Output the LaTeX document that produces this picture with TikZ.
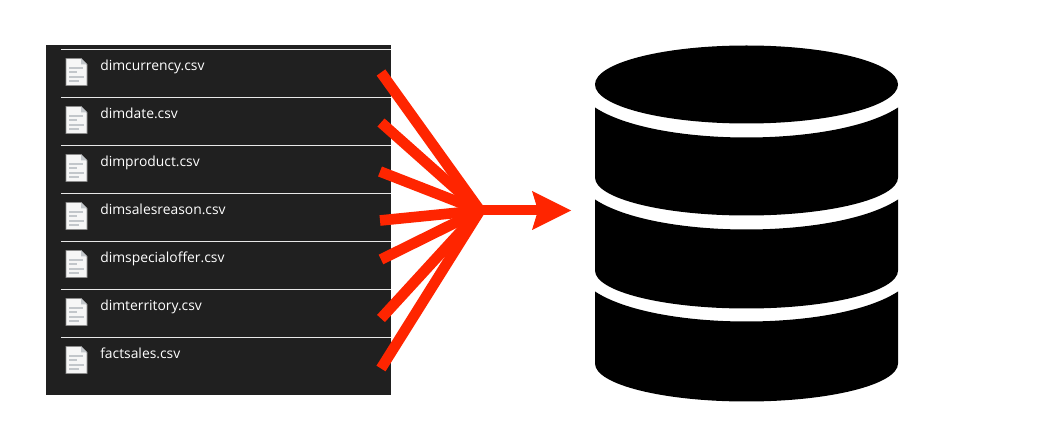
\documentclass[tikz,border=0pt]{standalone}
\usepackage{fontspec}
\setmainfont{Open Sans}
\usetikzlibrary{arrows.meta}
\definecolor{panel}{HTML}{202020}
\definecolor{fan}{HTML}{FF2500}
\definecolor{rule}{HTML}{E8E8E8}
\definecolor{page}{HTML}{F6F6F6}
\definecolor{edge}{HTML}{8C8C8C}
\definecolor{bar}{HTML}{C2C6CA}
\tikzset{
  x=0.75pt,y=-0.75pt,
  filelabel/.style={anchor=base west,inner sep=0pt,text=white,font=\fontsize{10.4pt}{12pt}\selectfont},
  divider/.style={draw=rule,line width=0.75pt},
  fanline/.style={draw=fan,line width=8pt,line cap=butt},
  mainarrow/.style={draw=fan,line width=7.5pt,-{Stealth[length=29.25pt,width=29.25pt,inset=4.5pt,line width=0pt,fill=fan]}},
  dbpart/.style={fill=black,draw=none}
}
\newcommand{\fileicon}[1]{%
  \fill[page,draw=edge,line width=0.6pt] (66,#1) -- (81,#1) -- (87,{#1+6}) -- (87,{#1+27}) -- (66,{#1+27}) -- cycle;
  \fill[bar] (81,#1) -- (87,{#1+6}) -- (81,{#1+6}) -- cycle;
  \fill[bar] (69,{#1+8.5}) rectangle (83,{#1+10.5});
  \fill[bar] (69,{#1+13}) rectangle (77,{#1+15});
  \fill[bar] (69,{#1+17.5}) rectangle (84,{#1+19.5});
  \fill[bar] (69,{#1+22}) rectangle (79,{#1+24});
}
\newcommand{\dbband}[2]{%
  \fill[dbpart] (595,#1) .. controls (656,{#1+40}) and (837,{#1+40}) .. (898,#1)
    -- (898,#2) .. controls (898,{#2+21}) and (830,{#2+38}) .. (746.5,{#2+38})
    .. controls (663,{#2+38}) and (595,{#2+21}) .. (595,#2) -- cycle;
}
\begin{document}
\begin{tikzpicture}
\useasboundingbox (0,-0.5) rectangle (1040,444.5);
\fill[white] (0,-0.5) rectangle (1040,444.5);
\fill[panel] (46,45) rectangle (391,395);
\foreach \y in {49,97,145,193,241,289,337}{
  \draw[divider] (61,\y) -- (391,\y);
  \fileicon{\the\numexpr\y+9\relax}
}
\node[filelabel] (f1) at (100,70) {dimcurrency.csv};
\node[filelabel] (f2) at (100,118) {dimdate.csv};
\node[filelabel] (f3) at (100,166) {dimproduct.csv};
\node[filelabel] (f4) at (100,214) {dimsalesreason.csv};
\node[filelabel] (f5) at (100,262) {dimspecialoffer.csv};
\node[filelabel] (f6) at (100,310) {dimterritory.csv};
\node[filelabel] (f7) at (100,358) {factsales.csv};
\coordinate (s1) at (381,72);
\coordinate (s2) at (381,122);
\coordinate (s3) at (380,171);
\coordinate (s4) at (380,220);
\coordinate (s5) at (381,259);
\coordinate (s6) at (381,318);
\coordinate (s7) at (381,368);
\coordinate (j) at (480,210);
\coordinate (db) at (571,210);
\foreach \i in {1,...,7}{ \draw[fanline] (s\i) -- (j); }
\draw[mainarrow] (j) -- (db);
\fill[dbpart] (746.5,84) ellipse [x radius=151.5,y radius=39];
\dbband{107}{177}
\dbband{199}{270}
\dbband{291}{363}
\end{tikzpicture}
\end{document}
